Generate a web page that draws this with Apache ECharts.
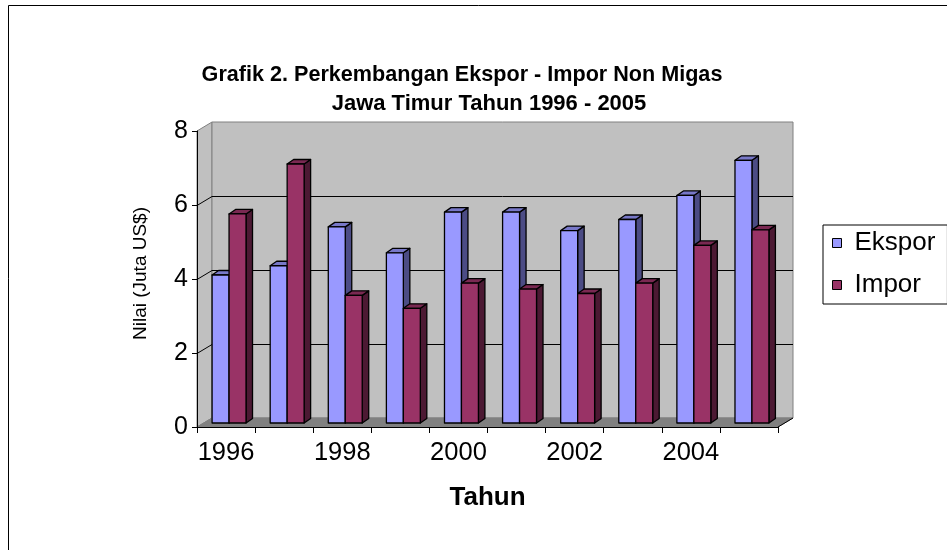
<!DOCTYPE html>
<html>
<head>
<meta charset="utf-8">
<script src="https://cdn.jsdelivr.net/npm/echarts@6/dist/echarts.min.js"></script>
<style>
html,body{margin:0;padding:0;background:#fff;}
#main{width:947px;height:550px;}
</style>
</head>
<body>
<div id="main"></div>
<script>
// ---- data ----
var years = ['1996','1997','1998','1999','2000','2001','2002','2003','2004','2005'];
var ekspor = [4.0, 4.25, 5.3, 4.6, 5.7, 5.7, 5.2, 5.5, 6.15, 7.1];
var impor  = [5.65, 7.0, 3.45, 3.1, 3.78, 3.62, 3.5, 3.78, 4.8, 5.22];
var yTicks = [0, 2, 4, 6, 8];
var titleLine1 = 'Grafik 2. Perkembangan Ekspor - Impor Non Migas';
var titleLine2 = 'Jawa Timur Tahun 1996 - 2005';

// ---- styling constants ----
var FONT = '"Liberation Sans", Arial, sans-serif';
var WALL_DX = 15, WALL_DY = -9;     // depth of the 3D box
var BAR_DX = 6.5, BAR_DY = -4.5;    // depth of each 3D bar
var BAR_SHIFT_X = 3, BAR_SHIFT_Y = -4;
var BAR_FRAC = 0.292;

function barRenderer(side, faces) {
  return function (params, api) {
    var cat = api.value(0), v = api.value(1);
    var base = api.coord([cat, 0]);
    var top = api.coord([cat, v]);
    var band = api.size([1, 0])[0];
    var bw = band * BAR_FRAC;
    var cx = base[0] + BAR_SHIFT_X;
    var x0 = side === 0 ? cx - bw : cx;
    var x1 = x0 + bw;
    var yb = base[1] + BAR_SHIFT_Y;
    var yt = top[1] + BAR_SHIFT_Y;
    var st = {stroke: '#000', lineWidth: 1.3, lineJoin: 'round'};
    return {
      type: 'group',
      children: [
        {type: 'polygon', shape: {points: [[x1, yt], [x1 + BAR_DX, yt + BAR_DY], [x1 + BAR_DX, yb + BAR_DY], [x1, yb]]},
         style: Object.assign({fill: faces.side}, st)},
        {type: 'polygon', shape: {points: [[x0, yt], [x0 + BAR_DX, yt + BAR_DY], [x1 + BAR_DX, yt + BAR_DY], [x1, yt]]},
         style: Object.assign({fill: faces.top}, st)},
        {type: 'rect', shape: {x: x0, y: yt, width: bw, height: yb - yt},
         style: Object.assign({fill: faces.front}, st)}
      ]
    };
  };
}

function wallRenderer(params, api) {
  var cs = params.coordSys;
  var x = cs.x, y = cs.y, w = cs.width, h = cs.height;
  var dx = WALL_DX, dy = WALL_DY;
  var children = [
    {type: 'polygon', shape: {points: [[x, y], [x + dx, y + dy], [x + dx, y + h + dy], [x, y + h]]},
     style: {fill: '#C0C0C0', stroke: '#808080', lineWidth: 1}},
    {type: 'rect', shape: {x: x + dx, y: y + dy, width: w, height: h},
     style: {fill: '#C0C0C0', stroke: '#808080', lineWidth: 1}},
    {type: 'polygon', shape: {points: [[x, y + h], [x + dx, y + h + dy], [x + w + dx, y + h + dy], [x + w, y + h]]},
     style: {fill: '#808080', stroke: '#808080', lineWidth: 1}},
    {type: 'line', shape: {x1: x + w, y1: y + h, x2: x + w + dx, y2: y + h + dy},
     style: {stroke: '#000', lineWidth: 1}}
  ];
  yTicks.forEach(function (t) {
    if (t === yTicks[0] || t === yTicks[yTicks.length - 1]) return;
    var yy = Math.round(api.coord([0, t])[1]) + 0.5;
    children.push({type: 'polyline', shape: {points: [[x, yy], [x + dx, yy + dy], [x + w + dx, yy + dy]]},
      style: {stroke: '#000', lineWidth: 1, fill: null}});
  });
  return {type: 'group', children: children};
}

var chart = echarts.init(document.getElementById('main'), null, {renderer: 'canvas'});
chart.setOption({
  backgroundColor: '#fff',
  animation: false,
  textStyle: {fontFamily: FONT},
  grid: {left: 197, top: 131, width: 581, height: 296},
  graphic: [
    {type: 'rect', shape: {x: 8.5, y: 5.5, width: 1200, height: 1200}, style: {fill: null, stroke: '#000', lineWidth: 1}, z: 100},
    {type: 'text', x: 462, y: 75, z: 100, style: {text: titleLine1, font: 'bold 21.6px ' + FONT, fill: '#000', textAlign: 'center', textVerticalAlign: 'middle'}},
    {type: 'text', x: 489, y: 104, z: 100, style: {text: titleLine2, font: 'bold 22px ' + FONT, fill: '#000', textAlign: 'center', textVerticalAlign: 'middle'}}
  ],
  legend: {
    orient: 'vertical',
    left: 823, top: 225,
    data: ['Ekspor', 'Impor'],
    icon: 'rect',
    itemWidth: 9, itemHeight: 9,
    itemGap: 14,
    padding: [4, 12, 5, 9],
    borderColor: '#000', borderWidth: 1,
    itemStyle: {borderColor: '#000', borderWidth: 1},
    textStyle: {fontSize: 26, color: '#000', lineHeight: 28, fontFamily: FONT, padding: [0, 0, 0, 8]}
  },
  xAxis: {
    type: 'category',
    data: years,
    boundaryGap: true,
    axisLine: {show: true, lineStyle: {color: '#000', width: 1}},
    axisTick: {show: true, interval: 0, length: 6, lineStyle: {color: '#000'}},
    axisLabel: {interval: 1, fontSize: 25.5, color: '#000', margin: 13, fontFamily: FONT},
    name: 'Tahun',
    nameLocation: 'middle',
    nameGap: 58,
    nameTextStyle: {fontSize: 26, fontWeight: 'bold', color: '#000', fontFamily: FONT},
    splitLine: {show: false}
  },
  yAxis: {
    type: 'value',
    min: 0, max: 8, interval: 2,
    axisLine: {show: true, lineStyle: {color: '#000', width: 1}},
    axisTick: {show: true, length: 5, lineStyle: {color: '#000'}},
    axisLabel: {fontSize: 25, color: '#000', margin: 9, fontFamily: FONT},
    name: 'Nilai (Juta US$)',
    nameLocation: 'middle',
    nameGap: 47,
    nameTextStyle: {fontSize: 19, color: '#000', fontFamily: FONT, padding: [0, 0, 0, 11]},
    splitLine: {show: false}
  },
  series: [
    {type: 'custom', name: 'walls', z: -1, silent: true, data: [[0]], renderItem: wallRenderer},
    {type: 'custom', name: 'Ekspor', z: 2,
     itemStyle: {color: '#9999FF', borderColor: '#000', borderWidth: 1},
     data: years.map(function (y, i) { return [i, ekspor[i]]; }),
     renderItem: barRenderer(0, {front: '#9999FF', top: '#7878C8', side: '#4C4C85'})},
    {type: 'custom', name: 'Impor', z: 3,
     itemStyle: {color: '#993366', borderColor: '#000', borderWidth: 1},
     data: years.map(function (y, i) { return [i, impor[i]]; }),
     renderItem: barRenderer(1, {front: '#993366', top: '#7A2952', side: '#4C1933'})}
  ]
});
</script>
</body>
</html>
